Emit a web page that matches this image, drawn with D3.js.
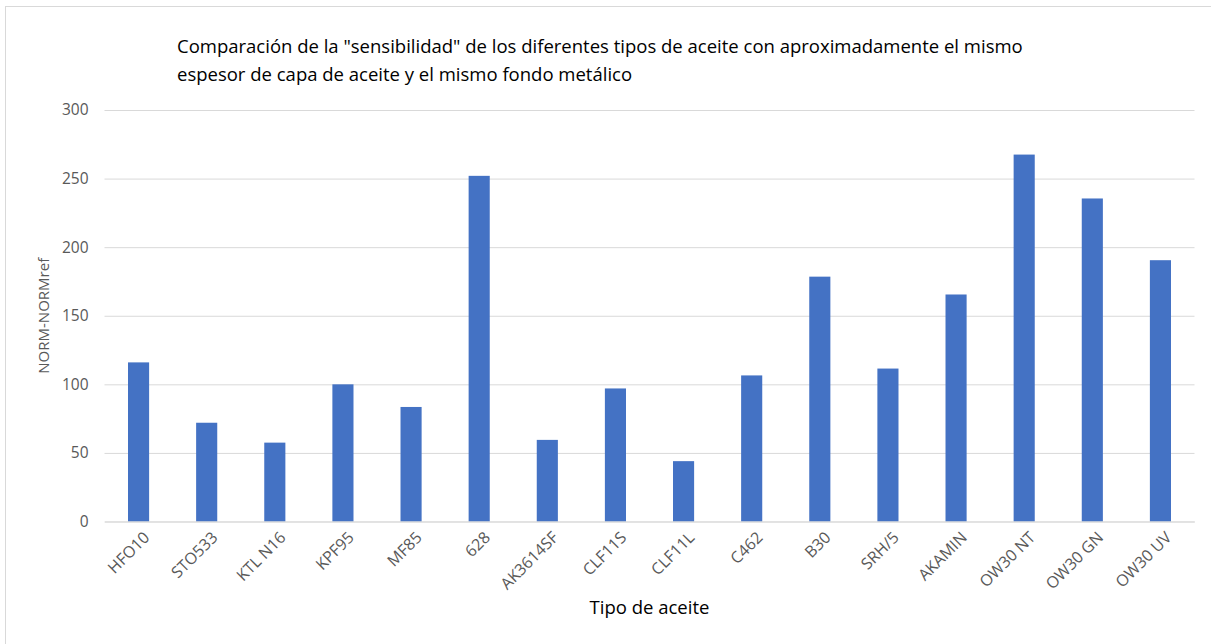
<!DOCTYPE html>
<html>
<head>
<meta charset="utf-8">
<script src="https://cdn.jsdelivr.net/npm/d3@7"></script>
<style>
  html, body { margin: 0; padding: 0; background: #fff; }
  svg { display: block; }
</style>
</head>
<body>
<svg id="chart" width="1211" height="644"></svg>
<script>
// Tipos de aceite y su sensibilidad (NORM - NORMref)
const categories = ["HFO10", "STO533", "KTL N16", "KPF95", "MF85", "628", "AK3614SF", "CLF11S",
                    "CLF11L", "C462", "B30", "SRH/5", "AKAMIN", "OW30 NT", "OW30 GN", "OW30 UV"];
const values = [116, 72, 57.5, 100, 83.5, 252, 59.5, 97, 44, 106.5, 178.5, 111.5, 165.5, 267.5, 235.5, 190.5];
const yTicks = [0, 50, 100, 150, 200, 250, 300];
const titleLines = [
  "Comparación de la \"sensibilidad\" de los diferentes tipos de aceite con aproximadamente el mismo",
  "espesor de capa de aceite y el mismo fondo metálico"
];
const yTitle = "NORM-NORMref";
const xTitle = "Tipo de aceite";

const svg = d3.select("#chart");
const W = 1211, H = 644;
const plot = { left: 104.5, right: 1194.5, top: 110, bottom: 521.5 };

const textFont = "'Open Sans', 'Noto Sans', sans-serif";
const axisFont = "'Open Sans', 'Noto Sans', sans-serif";
const grey = "#595959";

// chart area frame
svg.append("rect")
  .attr("x", 5.5).attr("y", 6.5)
  .attr("width", W + 10).attr("height", H + 10)
  .attr("fill", "#fff").attr("stroke", "#d9d9d9").attr("stroke-width", 1);

const x = d3.scaleBand()
  .domain(categories)
  .range([plot.left, plot.right])
  .paddingInner(0.69)
  .paddingOuter(0.345);

const y = d3.scaleLinear()
  .domain([0, 300])
  .range([plot.bottom, plot.top]);

// horizontal gridlines
const yAxis = d3.axisLeft(y)
  .tickValues(yTicks)
  .tickSize(-(plot.right - plot.left))
  .tickPadding(16)
  .tickFormat(d3.format("d"));

const gy = svg.append("g")
  .attr("transform", `translate(${plot.left},0)`)
  .call(yAxis);
gy.select(".domain").remove();
gy.selectAll(".tick line").attr("stroke", "#d9d9d9").attr("stroke-width", 1);
gy.selectAll(".tick text")
  .attr("fill", grey)
  .style("font-family", axisFont)
  .style("font-size", "15.5px");

// bars
svg.append("g")
  .selectAll("rect")
  .data(values)
  .join("rect")
  .attr("x", (d, i) => x(categories[i]))
  .attr("y", d => y(d))
  .attr("width", x.bandwidth())
  .attr("height", d => y(0) - y(d))
  .attr("fill", "#4472C4");

// category labels, rotated
const xAxis = d3.axisBottom(x).tickSize(0).tickPadding(0);
const gx = svg.append("g")
  .attr("transform", `translate(0,${plot.bottom})`)
  .call(xAxis);
gx.select(".domain").attr("stroke", "#d9d9d9");
gx.selectAll(".tick text")
  .attr("fill", grey)
  .style("font-family", axisFont)
  .style("font-size", "16px")
  .attr("text-anchor", "end")
  .attr("dy", "0.35em")
  .attr("transform", "translate(8,13) rotate(-45)");

// title
const title = svg.append("text")
  .attr("x", 177)
  .attr("y", 53)
  .attr("fill", "#000")
  .style("font-family", textFont)
  .style("font-size", "18.5px");
titleLines.forEach((t, i) => {
  title.append("tspan").attr("x", 177).attr("dy", i === 0 ? 0 : 28).text(t);
});

// axis titles
svg.append("text")
  .attr("transform", `translate(49,${(plot.top + plot.bottom) / 2}) rotate(-90)`)
  .attr("text-anchor", "middle")
  .attr("fill", grey)
  .style("font-family", axisFont)
  .style("font-size", "15px")
  .text(yTitle);

svg.append("text")
  .attr("x", (plot.left + plot.right) / 2)
  .attr("y", 614)
  .attr("text-anchor", "middle")
  .attr("fill", "#000")
  .style("font-family", textFont)
  .style("font-size", "18.5px")
  .text(xTitle);
</script>
</body>
</html>
